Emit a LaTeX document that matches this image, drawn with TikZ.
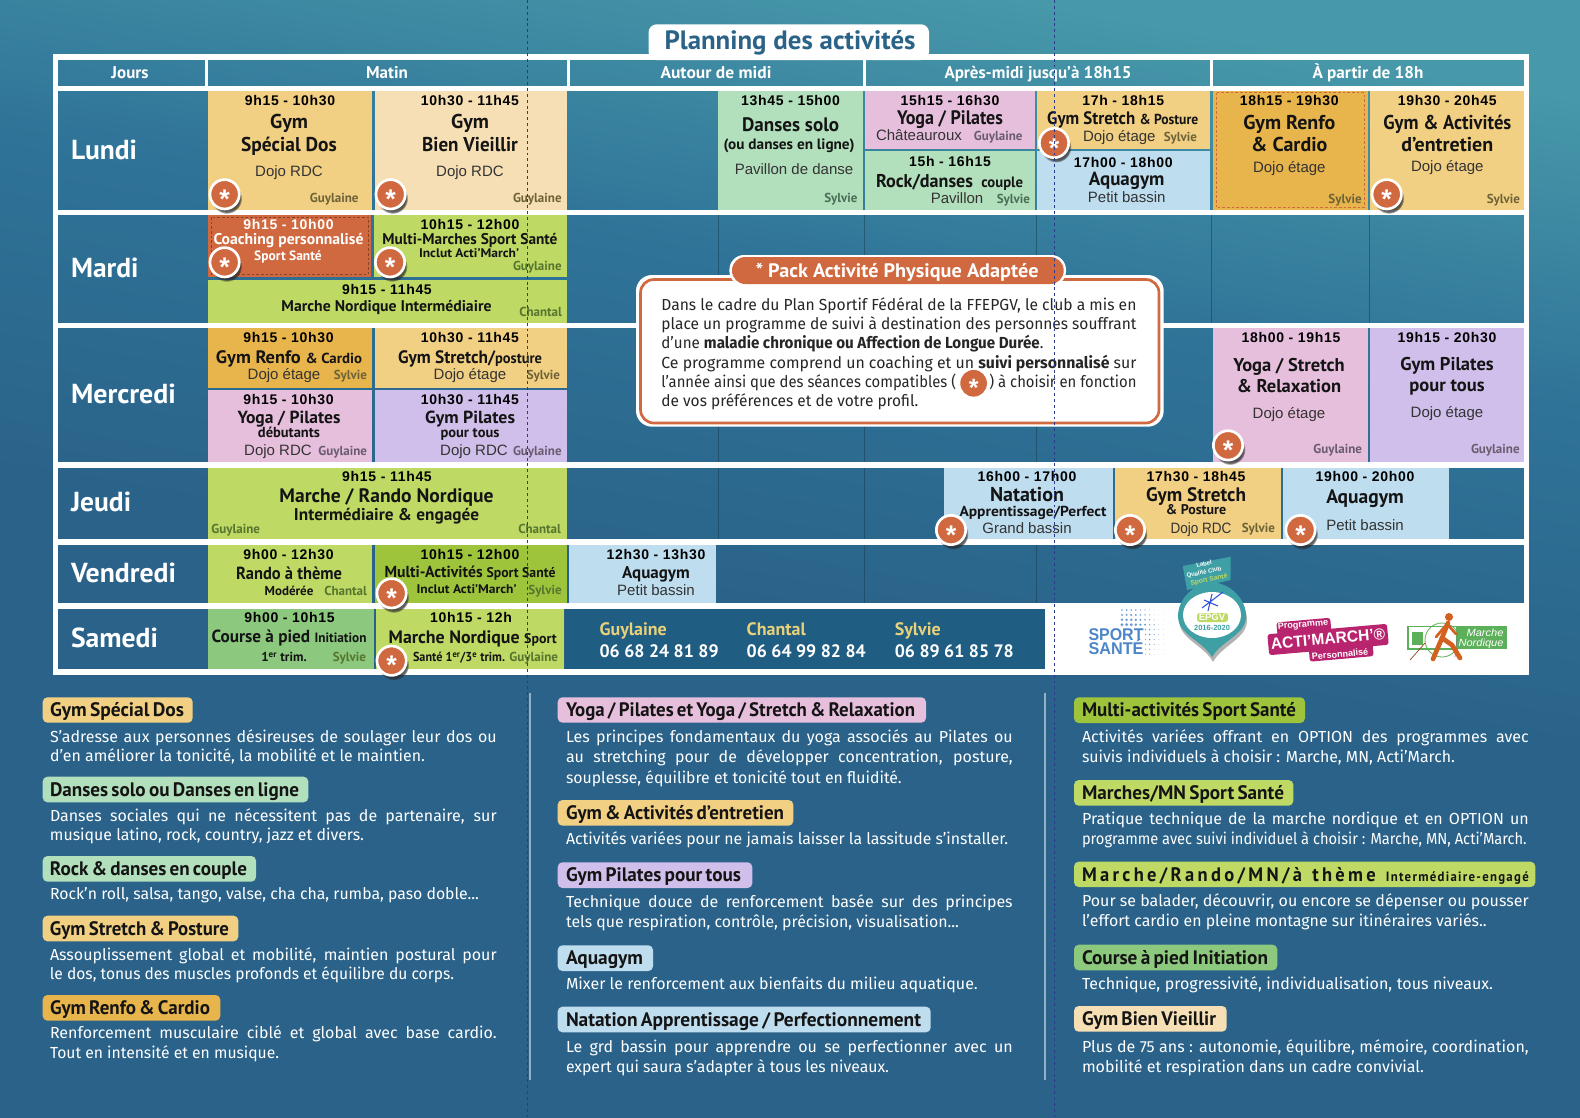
\documentclass[tikz,border=0pt]{standalone}
\usepackage{fontspec}
\usepackage{graphicx}
\usetikzlibrary{shadows,calc}
\setmainfont{Fira Sans}
\newfontfamily\pt{PT Sans}
\newfontfamily\lib{Liberation Sans}
\definecolor{bgT}{HTML}{4798A9}
\definecolor{bgM}{HTML}{2F7398}
\definecolor{bgB}{HTML}{2A6289}
\definecolor{cOrA}{HTML}{F2D083}
\definecolor{cOrB}{HTML}{E8B44C}
\definecolor{cOrC}{HTML}{F6DFB4}
\definecolor{cCoral}{HTML}{D0693F}
\definecolor{cGrA}{HTML}{BFD965}
\definecolor{cGrB}{HTML}{9EC43C}
\definecolor{cGrC}{HTML}{8CC87E}
\definecolor{cMint}{HTML}{B2DFBC}
\definecolor{cPink}{HTML}{E6BFDC}
\definecolor{cLila}{HTML}{D0BFEA}
\definecolor{cSky}{HTML}{BEDDEF}
\definecolor{cContact}{HTML}{1F5D82}
\definecolor{cName}{HTML}{E8D17A}
\definecolor{cTitle}{HTML}{2B6388}
\definecolor{whoY}{HTML}{6D6238}
\definecolor{whoG}{HTML}{56752E}
\definecolor{whoP}{HTML}{6A5C70}
\definecolor{whoM}{HTML}{4A6D55}
\definecolor{fold}{HTML}{2C3A8C}
\definecolor{cMag}{HTML}{B8256E}
\definecolor{cLogoB}{HTML}{4D86C6}
\definecolor{cLogoG}{HTML}{5DB05A}
\definecolor{cPerson}{HTML}{D2601E}
\definecolor{cBadge}{HTML}{3E9FA5}
\pgfdeclareverticalshading{bgsh}{100bp}{color(0bp)=(bgB); color(47bp)=(bgB); color(62bp)=(bgM); color(75bp)=(bgT); color(100bp)=(bgT)}
\newcounter{tc}
\newsavebox\lb
\newcommand\px[1]{\fontsize{\fpeval{#1*0.75}}{\fpeval{#1*0.9}}\selectfont}
% anchor, x, y, size(px), width(px or 0), colour, font, text
\newcommand\Tx[8]{\stepcounter{tc}\node[anchor=#1,inner sep=0pt,outer sep=0pt,text=#6,name=t\arabic{tc}] at ({#2},{#3+0.35*#4}) {\px{#4}#7\relax\ifdim#5pt>0pt\resizebox{\fpeval{#5*0.75}pt}{\height}{#8}\else #8\fi};}
% justified line: x, y, width, colour, font and text
\newcommand\Ln[6][16]{\stepcounter{tc}\node[anchor=base west,inner sep=0pt,outer sep=0pt,text=#5,name=t\arabic{tc}] at ({#2},{#3+0.35*#1}) {\px{#1}\setbox\lb\hbox{#6}\ifdim\wd\lb>\fpeval{#4*0.75}pt\resizebox{\fpeval{#4*0.75}pt}{\height}{\box\lb}\else\hbox to \fpeval{#4*0.75}pt{#6}\fi};}
\newcommand\Cel[5]{\fill[#5] (#1,#2) rectangle (#3,#4);}
\newcommand\Tm[3]{\Tx{base}{#1}{#2}{14}{0}{black}{\lib\bfseries\addfontfeature{LetterSpace=5}}{#3}}
\newcommand\Ac[5]{\Tx{base}{#1}{#2}{#3}{#4}{black!92}{\pt\bfseries}{#5}}
\newcommand\Ro[3]{\Tx{base}{#1}{#2}{15}{0}{black!80}{\lib}{#3}}
\newcommand\Wh[4]{\Tx{base east}{#1}{#2}{13}{0}{#3}{\pt\bfseries}{#4}}
\newcommand\Star[2]{\stepcounter{tc}\node[stardot,name=s\arabic{tc}] at (#1,#2) {};\Tx{base}{#1}{#2+4.7}{27}{0}{white}{\lib\bfseries}{*}}
\newcommand\Pil[8]{\fill[#5,rounded corners=3.5pt] (#1,#2) rectangle (#3,#4);\Tx{base west}{#6}{(#2+#4)/2}{19.5}{#7}{black!92}{\pt\bfseries\spaceskip=.17em}{#8}}
\tikzset{stardot/.style={circle,draw=white,line width=2pt,fill=cCoral,minimum size=22pt,inner sep=0pt,circular drop shadow={shadow xshift=1.5pt,shadow yshift=-3pt,shadow scale=1.05,opacity=.75,fill=black!85}},
 sep/.style={black!45!bgM,line width=.5pt,opacity=.55}}
\begin{document}
\begin{tikzpicture}[x=0.75pt,y=-0.75pt]
\useasboundingbox (0,0) rectangle (1580,1117);
\shade[shading=bgsh,shading angle=-10] (0,0) rectangle (1580,1117);
% faint column marks on the free parts of the rows
\draw[sep] (718,215.3) -- (718,322.7) (864,215.3) -- (864,322.7) (1036,215.3) -- (1036,322.7) (1211,215.3) -- (1211,322.7) (1369,215.3) -- (1369,322.7);
\draw[sep] (718,328.3) -- (718,461.7) (864,328.3) -- (864,461.7) (1036,328.3) -- (1036,461.7);
\draw[sep] (718,467.7) -- (718,539.3) (864,467.7) -- (864,539.3);
\draw[sep] (864,545) -- (864,603.3) (1036,545) -- (1036,603.3);
% white frame
\fill[white] (53,54.3) rectangle (1528.6,60);
\fill[white] (53,85.7) rectangle (1528.6,91);
\fill[white] (53,210) rectangle (1528.6,215.3);
\fill[white] (53,322.7) rectangle (1528.6,328.3);
\fill[white] (53,461.7) rectangle (1528.6,467.7);
\fill[white] (53,539.3) rectangle (1528.6,545);
\fill[white] (53,603.3) rectangle (1045,609);
\fill[white] (53,669) rectangle (1528.6,674.5);
\fill[white] (53,54.3) rectangle (57.6,674.5);
\fill[white] (1524,54.3) rectangle (1528.6,674.5);
\fill[white] (205,60) rectangle (207.7,85.7);
\fill[white] (567.4,60) rectangle (570,85.7);
\fill[white] (863,60) rectangle (866,85.7);
\fill[white] (1210,60) rectangle (1212.7,85.7);
\fill[white] (1045,603.3) rectangle (1528.6,674.5);
\fill[white,rounded corners=6pt] (648.6,24.3) rectangle (929,60);
\Tx{base}{790}{40}{26.5}{251}{cTitle}{\pt\bfseries}{Planning des activités}
% headers
\Tx{base}{130}{72.5}{17}{0}{white}{\pt\bfseries}{Jours}
\Tx{base}{387}{72.5}{17}{0}{white}{\pt\bfseries}{Matin}
\Tx{base}{716}{72.5}{17}{111}{white}{\pt\bfseries}{Autour de midi}
\Tx{base}{1038}{72.5}{17}{187}{white}{\pt\bfseries}{Après-midi jusqu’à 18h15}
\Tx{base}{1368}{72.5}{17}{111}{white}{\pt\bfseries}{À partir de 18h}
% days
\Tx{base west}{71}{150}{27.5}{0}{white}{\pt\bfseries}{Lundi}
\Tx{base west}{71}{268}{27.5}{0}{white}{\pt\bfseries}{Mardi}
\Tx{base west}{71}{394}{27.5}{105}{white}{\pt\bfseries}{Mercredi}
\Tx{base west}{71}{502}{27.5}{0}{white}{\pt\bfseries}{Jeudi}
\Tx{base west}{71}{573}{27.5}{105}{white}{\pt\bfseries}{Vendredi}
\Tx{base west}{71}{637.7}{27.5}{87}{white}{\pt\bfseries}{Samedi}
% ---- cells ----
\Cel{207.7}{91}{372}{210}{cOrA}
\Cel{374.7}{91}{567.4}{210}{cOrC}
\Cel{718}{91}{863}{210}{cMint}
\Cel{865}{91}{1035}{149}{cPink}
\Cel{865}{151}{1035}{210}{cMint}
\Cel{1037.3}{91}{1210}{149}{cOrA}
\Cel{1037.3}{151}{1210}{210}{cSky}
\Cel{1212.7}{91}{1368}{210}{cOrB}
\draw[cCoral,line width=.7pt,dash pattern=on 2pt off 1.5pt] (1216,92.5) rectangle (1364,207.5);
\Cel{1370}{91}{1524}{210}{cOrA}
\Cel{207.7}{215.3}{371}{277.3}{cCoral}
\draw[black!35!cCoral,line width=.7pt,dash pattern=on 2pt off 1.5pt] (211,217) rectangle (368,274.5);
\Cel{374}{215.3}{567.4}{277.3}{cGrA}
\Cel{207.7}{280}{567.4}{322.7}{cGrA}
\Cel{207.7}{328.3}{372}{387.7}{cOrB}
\Cel{374.7}{328.3}{567.4}{387.7}{cOrA}
\Cel{207.7}{390.3}{372}{461.7}{cPink}
\Cel{374.7}{390.3}{567.4}{461.7}{cLila}
\Cel{1212.7}{328.3}{1368}{461.7}{cPink}
\Cel{1370}{328.3}{1524}{461.7}{cLila}
\Cel{207.7}{467.7}{567.4}{539.3}{cGrA}
\Cel{944}{467.7}{1112.6}{539.3}{cSky}
\Cel{1115}{467.7}{1281}{539.3}{cOrA}
\Cel{1283}{467.7}{1449}{539.3}{cSky}
\Cel{207.7}{545}{372}{603.3}{cGrA}
\Cel{374.7}{545}{567.4}{603.3}{cGrB}
\Cel{569}{545}{716}{603.3}{cSky}
\Cel{207.7}{609}{374}{669}{cGrC}
\Cel{376}{609}{564}{669}{cGrA}
\Cel{565}{609}{1045}{669}{cContact}
% ---- Lundi ----
\Tm{290}{100.3}{9h15 - 10h30}
\Ac{289}{121.7}{20}{0}{Gym}
\Ac{289}{144}{20}{95.7}{Spécial Dos}
\Ro{289}{171}{Dojo RDC}
\Wh{358.5}{197.7}{whoY}{Guylaine}
\Tm{470}{100.3}{10h30 - 11h45}
\Ac{470}{121.7}{20}{0}{Gym}
\Ac{470}{144}{20}{95.7}{Bien Vieillir}
\Ro{470}{171}{Dojo RDC}
\Wh{561.6}{197.7}{whoY}{Guylaine}
\Tm{790.6}{100.3}{13h45 - 15h00}
\Ac{790.6}{125}{19.5}{97}{Danses solo}
\Ac{789}{144}{15}{131}{(ou danses en ligne)}
\Ro{794}{169}{Pavillon de danse}
\Wh{857.5}{197.7}{whoM}{Sylvie}
\Tm{950}{100.3}{15h15 - 16h30}
\Ac{950}{117.3}{19.5}{106}{Yoga / Pilates}
\Tx{base west}{876}{135.7}{15}{0}{black!80}{\lib}{Châteauroux}
\Wh{1022.5}{136}{whoP}{Guylaine}
\Tm{950}{161.3}{15h - 16h15}
\Ac{949.5}{180.7}{18.5}{147}{Rock/danses {\px{15} couple}}
\Ro{957}{198}{Pavillon}
\Wh{1030}{198.5}{whoM}{Sylvie}
\Tm{1123.3}{100.7}{17h - 18h15}
\Ac{1122.7}{117.7}{18}{151}{Gym Stretch {\px{14.5}\& Posture}}
\Ro{1119.3}{136.7}{Dojo étage}
\Wh{1197}{137}{whoY}{Sylvie}
\Tm{1123.3}{162.3}{17h00 - 18h00}
\Ac{1126.7}{179.3}{19}{0}{Aquagym}
\Ro{1126.7}{197.7}{Petit bassin}
\Tm{1289.3}{100.7}{18h15 - 19h30}
\Ac{1289.3}{122.7}{20}{0}{Gym Renfo}
\Ac{1289.3}{144.3}{20}{0}{\& Cardio}
\Ro{1289.3}{167.3}{Dojo étage}
\Wh{1361.7}{199}{whoY}{Sylvie}
\Tm{1447.3}{100.7}{19h30 - 20h45}
\Ac{1447.3}{122.7}{20}{128}{Gym \& Activités}
\Ac{1447.3}{144.3}{20}{0}{d’entretien}
\Ro{1447.3}{166.7}{Dojo étage}
\Wh{1520}{199}{whoY}{Sylvie}
% ---- Mardi ----
\Tx{base}{288.5}{224.3}{14}{0}{white}{\lib\bfseries\addfontfeature{LetterSpace=5}}{9h15 - 10h00}
\Tx{base}{288.5}{238.7}{15.5}{150}{white}{\pt\bfseries}{Coaching personnalisé}
\Tx{base}{288}{255.7}{13.5}{0}{white}{\pt\bfseries}{Sport Santé}
\Tm{470}{224.3}{10h15 - 12h00}
\Ac{470}{238.7}{15.5}{175}{Multi-Marches Sport Santé}
\Ac{469}{253.3}{12.5}{100}{Inclut Acti’March’}
\Wh{561.6}{265.7}{whoG}{Guylaine}
\Tm{387}{290}{9h15 - 11h45}
\Ac{386.5}{306}{15.5}{210}{Marche Nordique Intermédiaire}
\Wh{562}{312}{whoG}{Chantal}
% ---- Mercredi ----
\Tm{288.5}{337.3}{9h15 - 10h30}
\Ac{289}{356.7}{18}{146}{Gym Renfo {\px{14.5}\& Cardio}}
\Ro{284}{374.3}{Dojo étage}
\Wh{367}{375}{whoY}{Sylvie}
\Tm{470}{337.3}{10h30 - 11h45}
\Ac{470}{356.7}{18}{144}{Gym Stretch/{\px{15}posture}}
\Ro{470}{374.3}{Dojo étage}
\Wh{560}{375}{whoY}{Sylvie}
\Tm{288.5}{400}{9h15 - 10h30}
\Ac{289}{417.3}{17.5}{103}{Yoga / Pilates}
\Ac{289}{432.3}{14.5}{0}{débutants}
\Ro{278}{450}{Dojo RDC}
\Wh{367}{450.5}{whoP}{Guylaine}
\Tm{470}{400}{10h30 - 11h45}
\Ac{470}{417.7}{17.5}{90}{Gym Pilates}
\Ac{470}{432.7}{14.5}{0}{pour tous}
\Ro{474}{450}{Dojo RDC}
\Wh{561.6}{450.5}{whoP}{Guylaine}
\Tm{1291}{337.5}{18h00 - 19h15}
\Ac{1289}{364.8}{18.5}{0}{Yoga / Stretch}
\Ac{1289}{386}{18.5}{0}{\& Relaxation}
\Ro{1289}{413}{Dojo étage}
\Wh{1362}{449.4}{whoP}{Guylaine}
\Tm{1447}{337.5}{19h15 - 20h30}
\Ac{1447}{363.8}{18.5}{0}{Gym Pilates}
\Ac{1447}{385}{18.5}{0}{pour tous}
\Ro{1447}{412}{Dojo étage}
\Wh{1519.6}{449.4}{whoP}{Guylaine}
% ---- Jeudi ----
\Tm{387}{476.3}{9h15 - 11h45}
\Ac{386.5}{495.7}{19.5}{214}{Marche / Rando Nordique}
\Ac{386.5}{515}{17}{185}{Intermédiaire \& engagée}
\Tx{base west}{211.4}{528.7}{13}{0}{whoG}{\pt\bfseries}{Guylaine}
\Wh{561}{528.7}{whoG}{Chantal}
\Tm{1027}{476.6}{16h00 - 17h00}
\Ac{1027}{494}{20}{0}{Natation}
\Ac{1033}{511}{14.5}{147}{Apprentissage/Perfect}
\Ro{1027}{528}{Grand bassin}
\Tm{1196}{476.6}{17h30 - 18h45}
\Ac{1196}{494.7}{19.5}{100}{Gym Stretch}
\Ac{1196}{510}{14}{0}{\& Posture}
\Tx{base}{1201}{528}{15}{61}{black!80}{\lib}{Dojo RDC}
\Wh{1275}{528}{whoY}{Sylvie}
\Tm{1365}{476.6}{19h00 - 20h00}
\Ac{1365}{497}{19.5}{0}{Aquagym}
\Ro{1365}{525}{Petit bassin}
% ---- Vendredi ----
\Tm{288.5}{554.3}{9h00 - 12h30}
\Ac{289}{573.3}{17.5}{106}{Rando à thème}
\Ac{289}{591}{13}{0}{Modérée}
\Wh{367}{591}{whoG}{Chantal}
\Tm{470}{554.3}{10h15 - 12h00}
\Ac{470}{572.3}{16}{171}{Multi-Activités {\px{14}Sport Santé}}
\Ac{466.6}{589}{12.5}{100}{Inclut Acti’March’}
\Wh{561.6}{589.5}{whoG}{Sylvie}
\Tm{656}{554.3}{12h30 - 13h30}
\Ac{656}{572.5}{17}{0}{Aquagym}
\Ro{656}{590.5}{Petit bassin}
% ---- Samedi ----
\Tm{289.5}{617.3}{9h00 - 10h15}
\Ac{289}{636.7}{17.5}{155}{Course à pied {\px{13.5}Initiation}}
\Ac{284}{657.3}{13}{0}{1\textsuperscript{er} trim.}
\Wh{366}{657}{whoG}{Sylvie}
\Tm{471}{617.3}{10h15 - 12h}
\Ac{472.7}{636.7}{18}{168}{Marche Nordique {\px{14}Sport}}
\Tx{base west}{413}{657.3}{13}{92}{black!92}{\pt\bfseries}{Santé 1\textsuperscript{er}/3\textsuperscript{e} trim.}
\Wh{558}{657.3}{whoG}{Guylaine}
% contacts
\Tx{base west}{599.6}{628.8}{18}{0}{cName}{\pt\bfseries}{Guylaine}
\Tx{base west}{599.6}{651}{18}{119}{white}{\pt\bfseries}{06 68 24 81 89}
\Tx{base west}{746.7}{628.8}{18}{0}{cName}{\pt\bfseries}{Chantal}
\Tx{base west}{746.7}{651}{18}{119}{white}{\pt\bfseries}{06 64 99 82 84}
\Tx{base west}{894.8}{628.8}{18}{0}{cName}{\pt\bfseries}{Sylvie}
\Tx{base west}{894.8}{651}{18}{119}{white}{\pt\bfseries}{06 89 61 85 78}
% ---- callout ----
\fill[white,rounded corners=12pt] (636,275) rectangle (1163.7,426.7);
\draw[cCoral,line width=2pt,rounded corners=10pt] (640.5,279.5) rectangle (1159,423);
\fill[white,rounded corners=11pt] (729.4,255) rectangle (1066,285.7);
\fill[cCoral,rounded corners=10pt] (732,257) rectangle (1063.7,284);
\Tx{base}{897}{270.7}{19.5}{283}{white}{\pt\bfseries}{* Pack Activité Physique Adaptée}
\Ln{661.4}{305}{475}{black!85}{Dans le cadre du Plan Sportif Fédéral de la FFEPGV, le club a mis en}
\Ln{661.4}{324}{475}{black!85}{place un programme de suivi à destination des personnes souffrant}
\Ln{661.4}{343.3}{382}{black!85}{d’une \textbf{maladie chronique ou Affection de Longue Durée}.}
\Ln{661.4}{362.7}{475}{black!85}{Ce programme comprend un coaching et un \textbf{suivi personnalisé} sur}
\Ln{661.4}{382}{475}{black!85}{l’année ainsi que des séances compatibles (\hspace*{27pt}) à choisir en fonction}
\Ln{661.4}{401.3}{257}{black!85}{de vos préférences et de votre profil.}
\node[circle,fill=cCoral,minimum size=20pt,inner sep=0pt,name=minidot] at (973.6,383.3) {};
\Tx{base}{973.6}{387.5}{25}{0}{white}{\lib\bfseries}{*}
% ---- stars ----
\Star{224.6}{194.3}
\Star{390.6}{194.3}
\Star{224.6}{262.3}
\Star{390}{262.3}
\Star{1054}{143}
\Star{1386.7}{194.3}
\Star{1228}{445.4}
\Star{951}{530}
\Star{1130}{530}
\Star{1300.5}{530}
\Star{391.6}{593.3}
\Star{391.6}{660.7}
% ---- logos: Sport Santé ----
\foreach \i in {0,...,9}{\foreach \j in {0,...,9}{
  \pgfmathsetmacro\rr{max(0.2,2.1-0.05*veclen(\i*5-6,\j*5-24))}
  \fill[cLogoB!80] ({1122+\i*4.6},{610+\j*4.9}) circle [radius=\rr];}}
\fill[white,rounded corners=2pt] (1087,627) rectangle (1145,657);
\Tx{base}{1116}{635}{17}{55}{cLogoB}{\lib\bfseries}{SPORT}
\Tx{base}{1116}{649}{17}{55}{cLogoB}{\lib\bfseries}{SANTÉ}
% badge
\fill[black!30] (1213,586) .. controls (1232,588) and (1247,604) .. (1247,620) .. controls (1247,639) and (1222,645) .. (1213,662) .. controls (1204,645) and (1179,639) .. (1179,620) .. controls (1179,604) and (1194,588) .. (1213,586) -- cycle;
\fill[cBadge] (1212,582) .. controls (1232,584) and (1246,600) .. (1246,616) .. controls (1246,635) and (1222,640) .. (1212,657) .. controls (1202,640) and (1178,635) .. (1178,616) .. controls (1178,600) and (1192,584) .. (1212,582) -- cycle;
\fill[white] (1212,615) ellipse [x radius=29,y radius=23];
\fill[cBadge] (1182.7,566) -- (1230.7,556.7) -- (1230.7,580) -- (1187,590) -- cycle;
\node[rotate=12,text=white,inner sep=0pt,font=\lib\bfseries\fontsize{4.5}{4.5}\selectfont,name=lbA] at (1204,564) {Label};
\node[rotate=12,text=white,inner sep=0pt,font=\lib\bfseries\fontsize{4.5}{4.5}\selectfont,name=lbB] at (1204,572.5) {Qualité Club};
\node[rotate=12,text=cGrA,inner sep=0pt,font=\lib\bfseries\fontsize{5}{5}\selectfont,name=lbC] at (1209,580) {Sport Santé};
\draw[cLogoB!60!blue,line width=.8pt] (1202,608) -- (1223,592) (1204,600) -- (1218,606) (1212,594) -- (1208,611);
\fill[cGrA,rounded corners=2pt] (1197,613) rectangle (1228,622);
\Tx{base}{1212}{617.5}{9.5}{0}{white}{\lib\bfseries}{EPGV}
\Tx{base}{1212}{628}{7.5}{0}{cBadge}{\lib\bfseries}{2016-2020}
% Acti'March
\begin{scope}[rotate around={5:(1328,639)}]
\fill[cMag,rounded corners=2pt] (1278,618) rectangle (1332,632);
\fill[cMag,rounded corners=2pt] (1268,629) rectangle (1388,650);
\fill[cMag,rounded corners=2pt] (1308,647) rectangle (1372,660);
\end{scope}
\node[rotate=5,text=white,inner sep=0pt,font=\lib\bfseries\fontsize{6.8}{6.8}\selectfont,name=amA] at (1303,625) {Programme};
\node[rotate=5,text=white,inner sep=0pt,font=\lib\bfseries\fontsize{12}{12}\selectfont,name=amB] at (1328,639) {\resizebox{86pt}{\height}{ACTI’MARCH’®}};
\node[rotate=5,text=white,inner sep=0pt,font=\lib\bfseries\fontsize{6.8}{6.8}\selectfont,name=amC] at (1340,654) {Personnalisé};
% Marche Nordique
\draw[cLogoG,line width=1pt] (1408,626.5) rectangle (1457,649);
\fill[cLogoG] (1457,626) rectangle (1507,649);
\fill[cLogoG] (1412,632) rectangle (1423,645);
\draw[cLogoG,line width=.6pt] (1442,640) circle [radius=17];
\draw[cPerson!70!black,line width=.5pt] (1410,660) -- (1425,643);
\draw[black!50,line width=.5pt] (1455,657) -- (1458,630);
\fill[cPerson] (1449,617) circle [radius=4];
\draw[cPerson,line width=3.5pt,line cap=round,line join=round] (1448,623) -- (1442,638) -- (1433,659);
\draw[cPerson,line width=3.5pt,line cap=round,line join=round] (1442,638) -- (1452,645) -- (1460,658);
\draw[cPerson,line width=2pt,line cap=round,line join=round] (1447,624) -- (1456,634) (1447,624) -- (1436,637);
\Tx{base}{1485}{632.7}{10.5}{37}{white}{\lib\itshape}{Marche}
\Tx{base}{1481}{642.5}{10.5}{45}{white}{\lib\itshape}{Nordique}
% ---- legend ----
\draw[white!50!bgB,line width=1pt] (530,693) -- (530,1080);
\draw[white!50!bgB,line width=1pt] (1045,693) -- (1045,1080);
\Pil{42.7}{697.3}{192.7}{722.7}{cOrA}{50}{134}{Gym Spécial Dos}
\Ln{50}{736.7}{446.7}{white}{S’adresse aux personnes désireuses de soulager leur dos ou}
\Ln{50}{755.7}{375}{white}{d’en améliorer la tonicité, la mobilité et le maintien.}
\Pil{42.7}{776.7}{308.3}{802.3}{cMint}{50}{249}{Danses solo ou Danses en ligne}
\Ln{50}{815.7}{446.7}{white}{Danses sociales qui ne nécessitent pas de partenaire, sur}
\Ln{50}{835.3}{314}{white}{musique latino, rock, country, jazz et divers.}
\Pil{42.7}{856}{256}{881.7}{cMint}{50}{197}{Rock \& danses en couple}
\Ln{50}{894}{429}{white}{Rock’n roll, salsa, tango, valse, cha cha, rumba, paso doble...}
\Pil{42.7}{915.7}{238.3}{941.3}{cOrA}{50}{179}{Gym Stretch \& Posture}
\Ln{50}{954.7}{446.7}{white}{Assouplissement global et mobilité, maintien postural pour}
\Ln{50}{974.3}{404}{white}{le dos, tonus des muscles profonds et équilibre du corps.}
\Pil{42.7}{995}{220.3}{1020.7}{cOrB}{50}{160}{Gym Renfo \& Cardio}
\Ln{50}{1033.3}{446.7}{white}{Renforcement musculaire ciblé et global avec base cardio.}
\Ln{50}{1053.3}{229}{white}{Tout en intensité et en musique.}
\Pil{557.7}{697.3}{926}{722.7}{cPink}{566}{349}{Yoga / Pilates et Yoga / Stretch \& Relaxation}
\Ln{566}{736.7}{446.7}{white}{Les principes fondamentaux du yoga associés au Pilates ou}
\Ln{566}{757.3}{446.7}{white}{au stretching pour de développer concentration, posture,}
\Ln{566}{777.7}{335.7}{white}{souplesse, équilibre et tonicité tout en fluidité.}
\Pil{557.7}{800}{793.3}{825.7}{cOrA}{566}{218}{Gym \& Activités d’entretien}
\Ln{566}{839.3}{442}{white}{Activités variées pour ne jamais laisser la lassitude s’installer.}
\Pil{557.7}{862.3}{752.3}{888}{cLila}{566}{175}{Gym Pilates pour tous}
\Ln{566}{901.7}{446.7}{white}{Technique douce de renforcement basée sur des principes}
\Ln{566}{922.3}{393}{white}{tels que respiration, contrôle, précision, visualisation...}
\Pil{557.7}{945.3}{653}{971}{cSky}{566}{77}{Aquagym}
\Ln{566}{984}{411.7}{white}{Mixer le renforcement aux bienfaits du milieu aquatique.}
\Pil{557.7}{1006.7}{930.7}{1032.3}{cSky}{566}{355}{Natation Apprentissage / Perfectionnement}
\Ln{566}{1046.7}{446.7}{white}{Le grd bassin pour apprendre ou se perfectionner avec un}
\Ln{566}{1066.7}{323}{white}{expert qui saura s’adapter à tous les niveaux.}
\Pil{1074}{697.3}{1305}{723}{cGrB}{1082}{214}{Multi-activités Sport Santé}
\Ln{1082}{736.7}{446.7}{white}{Activités variées offrant en OPTION des programmes avec}
\Ln{1082}{757.3}{373}{white}{suivis individuels à choisir : Marche, MN, Acti’March.}
\Pil{1074}{780}{1293.3}{805.7}{cGrA}{1082}{202}{Marches/MN Sport Santé}
\Ln{1082}{819.3}{446.7}{white}{Pratique technique de la marche nordique et en OPTION un}
\Ln{1082}{839.3}{444.7}{white}{programme avec suivi individuel à choisir : Marche, MN, Acti’March.}
\Pil{1074}{861.7}{1535.3}{887}{cGrA}{1082}{446.7}{\spaceskip=.55em\addfontfeature{LetterSpace=18}Marche/Rando/MN/à thème {\px{13.5}\addfontfeature{LetterSpace=10} Intermédiaire-engagé}}
\Ln{1082}{901.3}{446.7}{white}{Pour se balader, découvrir, ou encore se dépenser ou pousser}
\Ln{1082}{921}{404.7}{white}{l’effort cardio en pleine montagne sur itinéraires variés..}
\Pil{1074}{944.7}{1277.3}{970.3}{cGrC}{1082}{186}{Course à pied Initiation}
\Ln{1082}{984}{411}{white}{Technique, progressivité, individualisation, tous niveaux.}
\Pil{1074}{1006}{1226.7}{1031.7}{cOrC}{1082}{134}{Gym Bien Vieillir}
\Ln{1082}{1046.7}{446.7}{white}{Plus de 75 ans : autonomie, équilibre, mémoire, coordination,}
\Ln{1082}{1066.7}{342}{white}{mobilité et respiration dans un cadre convivial.}
% fold marks
\coordinate (fa) at (527.5,0); \coordinate (fb) at (527.5,1117);
\coordinate (fc) at (1054.6,0); \coordinate (fd) at (1054.6,1117);
\draw[fold,line width=.6pt,dash pattern=on 2.2pt off 2.2pt] (fa) -- (fb);
\draw[fold,line width=.6pt,dash pattern=on 2.2pt off 2.2pt] (fc) -- (fd);
\end{tikzpicture}
\end{document}
